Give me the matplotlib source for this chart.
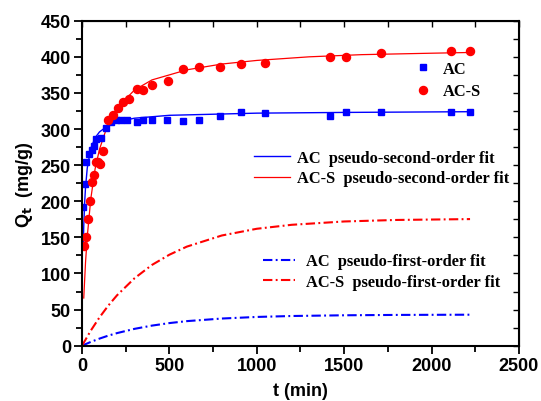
import matplotlib
matplotlib.use("Agg")
from matplotlib import pyplot as plt
from matplotlib.ticker import MultipleLocator
import numpy as np

# measured data (t in min, Qt in mg/g)
t_ac = [5, 15, 25, 40, 55, 70, 80, 110, 140, 165, 195, 225, 255, 315, 350,
        400, 485, 578, 667, 788, 908, 1049, 1419, 1508, 1709, 2109, 2218]
q_ac = [192, 224, 254, 265, 271, 276, 286, 288, 302, 310, 312, 312, 312, 310, 313,
        313, 313, 311, 313, 318, 323, 322, 318, 324, 323, 323, 323]

t_acs = [11, 23, 34, 46, 57, 69, 82, 92, 101, 120, 149, 179, 208, 236, 267, 313,
         351, 400, 490, 578, 669, 788, 908, 1049, 1419, 1508, 1709, 2109, 2218]
q_acs = [138, 151, 176, 200, 226, 236, 255, 254, 252, 270, 312, 320, 329, 337, 342, 355,
         354, 361, 367, 383, 386, 386, 390, 391, 400, 400, 405, 408, 408]

# pseudo-second-order fit curves
t_pso_ac = [7, 10, 15, 20, 30, 50, 75, 100, 150, 200, 300, 500, 1000, 1500, 2220]
q_pso_ac = [137, 166, 198, 219, 246, 273, 288, 296, 305, 310, 315, 319, 322, 323, 324]

t_pso_acs = [10, 20, 30, 50, 75, 100, 150, 200, 300, 400, 600, 800, 1000, 1300, 1600, 2000, 2220]
q_pso_acs = [66, 115, 151, 203, 245, 272, 308, 329, 354, 368, 382, 390, 395, 400, 403, 405, 406]

# pseudo-first-order fit curves
t_pfo = [0, 50, 100, 150, 200, 300, 400, 500, 600, 800, 1000, 1200, 1500, 1800, 2220]
q_pfo_ac = [0, 5.2, 9.8, 13.9, 17.4, 23.3, 27.8, 31.3, 34.0, 37.6, 39.8, 41.1, 42.1, 42.6, 42.9]
q_pfo_acs = [0, 20.8, 39.2, 55.4, 69.7, 93.3, 111.8, 126, 137.2, 152.6, 161.9, 167.4, 172, 174.1, 175.3]

BLUE = "#0000ff"
RED = "#ff0000"

fig = plt.figure(figsize=(5.41, 4.02), dpi=100)
ax = fig.add_axes([0.1516, 0.1376, 0.8077, 0.8084])

l_psoac, = ax.plot(t_pso_ac, q_pso_ac, color=BLUE, lw=1.0)
l_psoacs, = ax.plot(t_pso_acs, q_pso_acs, color=RED, lw=0.9)
dd = (0, (4.5, 1.6, 0.9, 1.6))
l_pfoac, = ax.plot(t_pfo, q_pfo_ac, color=BLUE, lw=1.5, linestyle=dd)
l_pfoacs, = ax.plot(t_pfo, q_pfo_acs, color=RED, lw=1.5, linestyle=dd)
m_ac, = ax.plot(t_ac, q_ac, "s", color=BLUE, ms=4.6, mec=BLUE, lw=0)
m_acs, = ax.plot(t_acs, q_acs, "o", color=RED, ms=5.8, mec=RED, lw=0)

ax.set_xlim(0, 2500)
ax.set_ylim(0, 450)
ax.xaxis.set_major_locator(MultipleLocator(500))
ax.xaxis.set_minor_locator(MultipleLocator(250))
ax.yaxis.set_major_locator(MultipleLocator(50))
ax.yaxis.set_minor_locator(MultipleLocator(25))
ax.tick_params(which="both", direction="out", width=1.3, top=False, right=False)
ax.tick_params(which="major", length=6, labelsize=13, pad=2)
ax.tick_params(which="minor", length=4)
for lab in ax.get_xticklabels() + ax.get_yticklabels():
    lab.set_fontfamily("Liberation Sans")
    lab.set_fontweight("bold")
for s in ax.spines.values():
    s.set_linewidth(1.5)

# inward ticks on top and right
sec_x = ax.secondary_xaxis("top")
sec_x.xaxis.set_major_locator(MultipleLocator(250))
sec_x.tick_params(direction="in", length=4, width=1.0, labeltop=False)
sec_y = ax.secondary_yaxis("right")
sec_y.yaxis.set_major_locator(MultipleLocator(25))
sec_y.tick_params(direction="in", length=4, width=1.0, labelright=False)

ax.set_xlabel("t (min)", fontfamily="Liberation Sans", fontweight="bold", fontsize=13, labelpad=6)
ax.set_ylabel("Q$_\\mathbf{t}$  (mg/g)", fontfamily="Liberation Sans", fontweight="bold",
              fontsize=13, labelpad=4)

lfont = {"family": "Liberation Serif", "weight": "bold", "size": 11.8}
W, H = 541.0, 402.0

leg1 = ax.legend([m_ac, m_acs], ["AC", "AC-S"], prop=lfont, frameon=False,
                 loc="upper left", bbox_to_anchor=(415.3 / W, 1 - 61.5 / H),
                 bbox_transform=fig.transFigure, borderpad=0, borderaxespad=0,
                 handlelength=0.9, handletextpad=0.8, labelspacing=0.42,
                 markerscale=1.0)
ax.add_artist(leg1)

leg2 = ax.legend([l_psoac, l_psoacs],
                 ["AC  pseudo-second-order fit", "AC-S  pseudo-second-order fit"],
                 prop=lfont, frameon=False, loc="upper left",
                 bbox_to_anchor=(254 / W, 1 - 151 / H), bbox_transform=fig.transFigure,
                 borderpad=0, borderaxespad=0, handlelength=2.2, handletextpad=0.43,
                 labelspacing=0.27)
ax.add_artist(leg2)

leg3 = ax.legend([l_pfoac, l_pfoacs],
                 ["AC  pseudo-first-order fit", "AC-S  pseudo-first-order fit"],
                 prop=lfont, frameon=False, loc="upper left",
                 bbox_to_anchor=(263 / W, 1 - 254.5 / H), bbox_transform=fig.transFigure,
                 borderpad=0, borderaxespad=0, handlelength=1.95, handletextpad=0.67,
                 labelspacing=0.27)

fig.savefig("out.png", dpi=100)
